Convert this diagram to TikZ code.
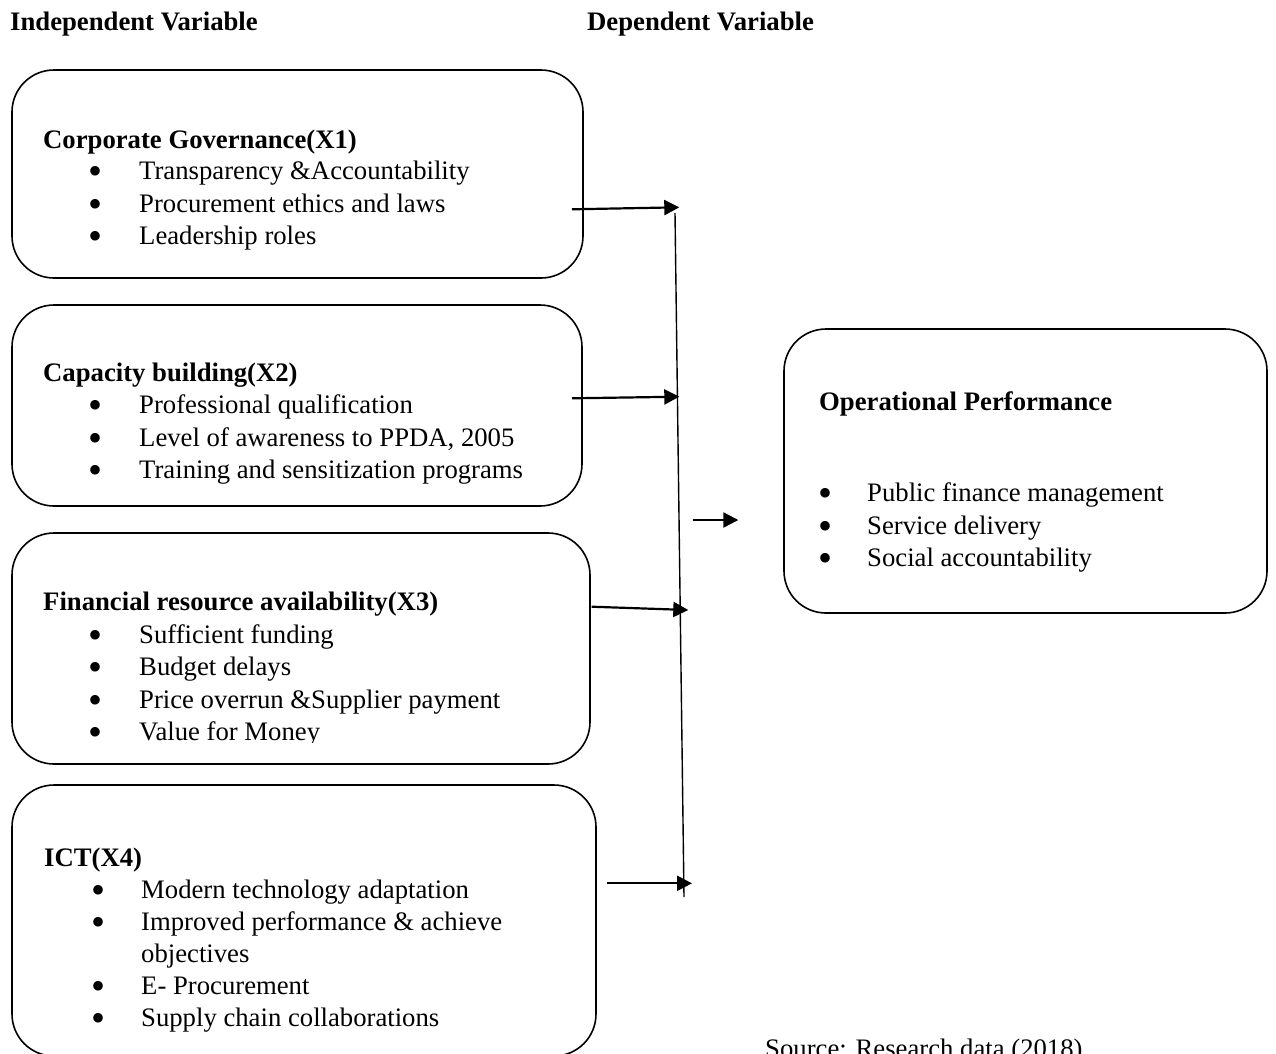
\documentclass[tikz,border=0pt]{standalone}
\usepackage{fontspec}
\setmainfont{Liberation Serif}
\usetikzlibrary{arrows.meta}
\newcommand\mybodyfont{\fontsize{26.7pt}{32.5pt}\selectfont}
\newcommand\mybul{\raisebox{-5pt}[6pt][0pt]{\fontsize{40pt}{40pt}\selectfont •}}
\begin{document}
\begin{tikzpicture}[x=1pt,y=-1pt,
  box/.style={draw, line width=1.6pt, rounded corners=42pt, anchor=north west, inner sep=0pt, outer sep=0pt},
  txt/.style={anchor=base west, inner sep=0pt, font=\mybodyfont},
  hd/.style={anchor=base west, inner sep=0pt, font=\mybodyfont\bfseries},
  bul/.style={anchor=base, inner sep=0pt, font=\mybodyfont},
  arr/.style={line width=2.2pt, -{Triangle[length=15pt,width=15pt]}},
  vline/.style={line width=1.4pt}]
\useasboundingbox (0,0) rectangle (1276,1053);
\clip (0,0) rectangle (1276,1053);
\fill[white] (0,0) rectangle (1276,1053);

% headers
\node[hd] (hInd) at (10,30) {Independent Variable};
\node[hd] (hDep) at (587,30) {Dependent Variable};

% boxes
\node[box, minimum width=571pt, minimum height=208pt] (b1) at (12,70) {};
\node[box, minimum width=570pt, minimum height=201pt] (b2) at (12,305) {};
\node[box, minimum width=578pt, minimum height=231pt] (b3) at (12,533) {};
\node[box, minimum width=584pt, minimum height=271pt] (b4) at (12,785) {};
\node[box, minimum width=483pt, minimum height=284pt] (b5) at (784,329) {};

% box 1
\node[hd] (t1h) at (43,148) {Corporate Governance(X1)};
\node[bul] (t1b1) at (96,179.5) {\mybul};
\node[txt] (t1l1) at (139,179.5) {Transparency \&Accountability};
\node[bul] (t1b2) at (96,212) {\mybul};
\node[txt] (t1l2) at (139,212) {Procurement ethics and laws};
\node[bul] (t1b3) at (96,244.5) {\mybul};
\node[txt] (t1l3) at (139,244.5) {Leadership roles};

% box 2
\node[hd] (t2h) at (43,381.5) {Capacity building(X2)};
\node[bul] (t2b1) at (96,413.5) {\mybul};
\node[txt] (t2l1) at (139,413.5) {Professional qualification};
\node[bul] (t2b2) at (96,446) {\mybul};
\node[txt] (t2l2) at (139,446) {Level of awareness to PPDA, 2005};
\node[bul] (t2b3) at (96,478.5) {\mybul};
\node[txt] (t2l3) at (139,478.5) {Training and sensitization programs};

% box 3
\node[hd] (t3h) at (43,610.7) {Financial resource availability(X3)};
\node[bul] (t3b1) at (96,643) {\mybul};
\node[txt] (t3l1) at (139,643) {Sufficient funding};
\node[bul] (t3b2) at (96,675.5) {\mybul};
\node[txt] (t3l2) at (139,675.5) {Budget delays};
\node[bul] (t3b3) at (96,708) {\mybul};
\node[txt] (t3l3) at (139,708) {Price overrun \&Supplier payment};
\begin{scope}
\clip (0,700) rectangle (600,742);
\node[bul] (t3b4) at (96,740.5) {\mybul};
\node[txt] (t3l4) at (139,740.5) {Value for Money};
\end{scope}

% box 4
\node[hd] (t4h) at (44,866.7) {ICT(X4)};
\node[bul] (t4b1) at (99,898) {\mybul};
\node[txt] (t4l1) at (141,898) {Modern technology adaptation};
\node[bul] (t4b2) at (99,930) {\mybul};
\node[txt] (t4l2) at (141,930) {Improved performance \& achieve};
\node[txt] (t4l2b) at (141,962) {objectives};
\node[bul] (t4b3) at (99,994) {\mybul};
\node[txt] (t4l3) at (141,994) {E- Procurement};
\node[bul] (t4b4) at (99,1026) {\mybul};
\node[txt] (t4l4) at (141,1026) {Supply chain collaborations};

% box 5
\node[hd] (t5h) at (819,410.7) {Operational Performance};
\node[bul] (t5b1) at (825,501.7) {\mybul};
\node[txt] (t5l1) at (867,501.7) {Public finance management};
\node[bul] (t5b2) at (825,534.2) {\mybul};
\node[txt] (t5l2) at (867,534.2) {Service delivery};
\node[bul] (t5b3) at (825,566.7) {\mybul};
\node[txt] (t5l3) at (867,566.7) {Social accountability};

% source
\node[txt] (src) at (765,1057) {Source: Research data (2018)};

% connector coordinates
\coordinate (s1) at (572,209.3);
\coordinate (e1) at (679.3,207.3);
\coordinate (s2) at (572,398.3);
\coordinate (e2) at (679.3,396.7);
\coordinate (s3) at (591.7,606.7);
\coordinate (e3) at (688.3,610);
\coordinate (s4) at (607.3,883.3);
\coordinate (e4) at (692,883.3);
\coordinate (vtop) at (675,213);
\coordinate (vbot) at (684,897);
\coordinate (ms) at (693.3,520);
\coordinate (me) at (738.3,520);

\draw[vline] (vtop) -- (vbot);
\draw[arr] (s1) -- (e1);
\draw[arr] (s2) -- (e2);
\draw[arr] (s3) -- (e3);
\draw[arr] (s4) -- (e4);
\draw[arr] (ms) -- (me);
\end{tikzpicture}
\end{document}
